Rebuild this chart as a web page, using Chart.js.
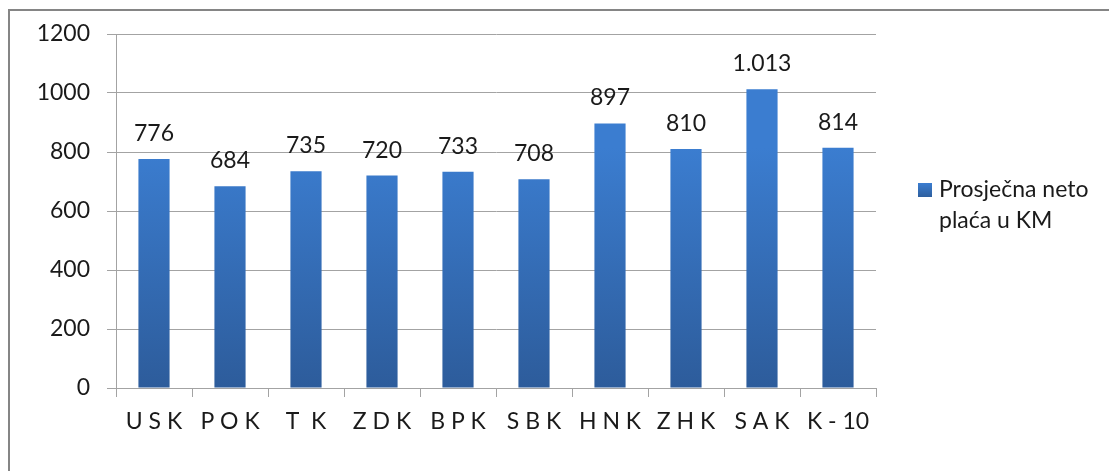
<!DOCTYPE html>
<html>
    <head>
        <meta charset="UTF-8" />
        <title>Prosječna neto plaća</title>
        <script src="https://cdn.jsdelivr.net/npm/chart.js@4.4.2/dist/chart.umd.min.js"></script>
        <style>
            html, body {
                margin: 0;
                padding: 0;
                background: #ffffff;
                overflow: hidden;
            }

            .frame {
                position: absolute;
                left: 8px;
                top: 9px;
                width: 1200px;
                height: 600px;
                border-left: 2px solid #858585;
                border-top: 2px solid #858585;
            }

            .wrap {
                position: absolute;
                left: 0;
                top: 0;
                width: 1109px;
                height: 471px;
            }

            .legend {
                position: absolute;
                left: 918px;
                top: 173px;
                font-family: Lato, "Open Sans", sans-serif;
                font-size: 23px;
                line-height: 31px;
                color: #1a1a1a;
            }

            .legend .box {
                position: absolute;
                left: 0;
                top: 10px;
                width: 14px;
                height: 14px;
                background: linear-gradient(#3b7dd0, #2e5f9e);
            }

            .legend .text {
                margin-left: 21px;
            }
        </style>
    </head>
    <body>
        <div class="frame"></div>
        <div class="wrap">
            <canvas id="barChart" width="1109" height="471"></canvas>
        </div>
        <div class="legend">
            <div class="box"></div>
            <div class="text" id="legendText"></div>
        </div>

        <script>
            // --- data ---
            var categories = ["U S K", "P O K", "T  K", "Z D K", "B P K", "S B K", "H N K", "Z H K", "S A K", "K - 10"];
            var values = [776, 684, 735, 720, 733, 708, 897, 810, 1013, 814];
            var seriesName = ["Prosječna neto", "plaća u KM"];
            var yTicks = [0, 200, 400, 600, 800, 1000, 1200];

            document.getElementById("legendText").innerHTML = seriesName.join("<br>");

            var fontFamily = "Lato, 'Open Sans', sans-serif";
            var textColor = "#1a1a1a";
            var gridColor = "#a3a3a3";

            // thousands with a dot, like 1.013
            function formatValue(v) {
                return String(v).replace(/\B(?=(\d{3})+(?!\d))/g, ".");
            }

            // per-bar vertical gradient, light on top, dark at the base
            var barGradient = {
                id: "barGradient",
                beforeDatasetsDraw(chart) {
                    var ctx = chart.ctx;
                    chart.getDatasetMeta(0).data.forEach(function (bar) {
                        var g = ctx.createLinearGradient(0, bar.y, 0, bar.base);
                        g.addColorStop(0, "#3b7dd0");
                        g.addColorStop(1, "#2d5c9b");
                        bar.options.backgroundColor = g;
                    });
                },
            };

            // value labels above the bars
            var valueLabels = {
                id: "valueLabels",
                afterDatasetsDraw(chart) {
                    var ctx = chart.ctx;
                    var ds = chart.data.datasets[0];
                    ctx.save();
                    ctx.font = "23px " + fontFamily;
                    ctx.fillStyle = textColor;
                    ctx.textAlign = "center";
                    ctx.textBaseline = "alphabetic";
                    chart.getDatasetMeta(0).data.forEach(function (bar, i) {
                        ctx.fillText(formatValue(ds.data[i]), bar.x, bar.y - 18);
                    });
                    ctx.restore();
                },
            };

            var ctx = document.getElementById("barChart").getContext("2d");
            var barChart = new Chart(ctx, {
                type: "bar",
                plugins: [barGradient, valueLabels],
                data: {
                    labels: categories,
                    datasets: [
                        {
                            label: seriesName.join(" "),
                            data: values,
                            backgroundColor: "#3570b8",
                            barPercentage: 0.41,
                            categoryPercentage: 1,
                        },
                    ],
                },
                options: {
                    responsive: false,
                    animation: false,
                    layout: {
                        padding: { left: 0, top: 34, right: 233, bottom: 0 },
                    },
                    plugins: {
                        legend: { display: false },
                        tooltip: { enabled: false },
                    },
                    scales: {
                        x: {
                            grid: {
                                display: true,
                                drawOnChartArea: false,
                                tickLength: 9,
                                color: gridColor,
                            },
                            border: { display: true, color: gridColor, width: 1 },
                            ticks: {
                                font: { family: fontFamily, size: 23 },
                                color: textColor,
                                padding: 11,
                                maxRotation: 0,
                                autoSkip: false,
                            },
                            afterFit: function (scale) {
                                scale.height = 83;
                            },
                        },
                        y: {
                            min: 0,
                            max: 1200,
                            afterBuildTicks: function (scale) {
                                scale.ticks = yTicks.map(function (v) {
                                    return { value: v };
                                });
                            },
                            grid: {
                                color: gridColor,
                                tickLength: 9,
                            },
                            border: { display: true, color: gridColor, width: 1 },
                            ticks: {
                                font: { family: fontFamily, size: 23 },
                                color: textColor,
                                padding: 17,
                                callback: function (value) {
                                    return String(value);
                                },
                            },
                            afterFit: function (scale) {
                                scale.width = 116;
                            },
                        },
                    },
                },
            });
        </script>
    </body>
</html>
